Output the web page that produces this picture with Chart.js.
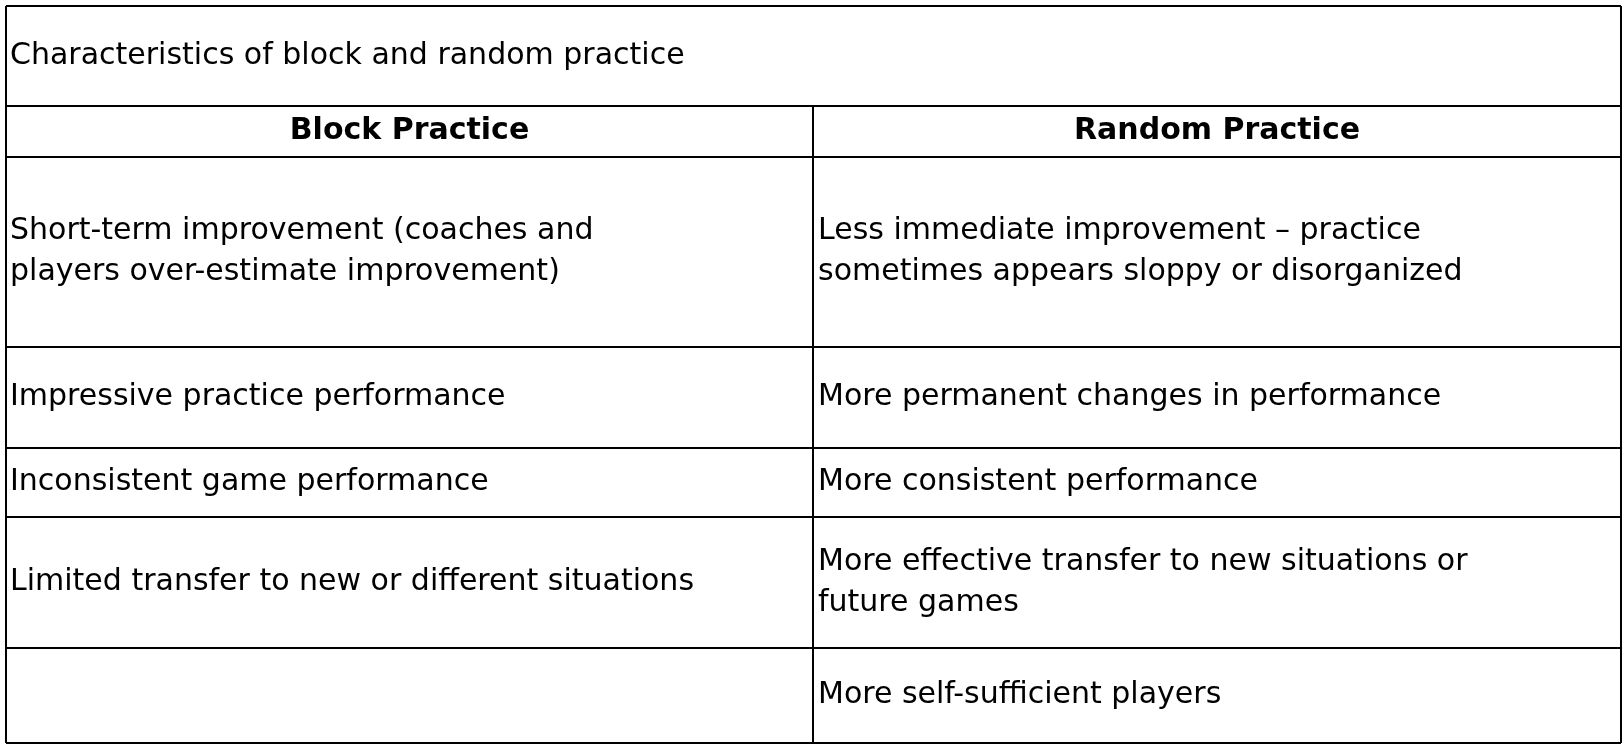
<!DOCTYPE html>
<html lang="en">
<head>
<meta charset="UTF-8">
<title>Characteristics of block and random practice</title>
<script src="https://cdn.jsdelivr.net/npm/chart.js"></script>
<style>
  body { margin: 0; background: #fff; }
  canvas { display: block; }
</style>
</head>
<body>
<canvas id="tableChart" width="1624" height="748"></canvas>
<script>
// table content
var title = 'Characteristics of block and random practice';
var headers = ['Block Practice', 'Random Practice'];
var blockCells = [
    ['Short-term improvement (coaches and', 'players over-estimate improvement)'],
    ['Impressive practice performance'],
    ['Inconsistent game performance'],
    ['Limited transfer to new or different situations'],
    []
];
var randomCells = [
    ['Less immediate improvement \u2013 practice', 'sometimes appears sloppy or disorganized'],
    ['More permanent changes in performance'],
    ['More consistent performance'],
    ['More effective transfer to new situations or', 'future games'],
    ['More self-sufficient players']
];

// layout
var left = 6, right = 1621, mid = 813;
var rowEdges = [6, 106, 157, 347, 448, 517, 648, 743];
var font = '"DejaVu Sans", sans-serif';
var fontSize = 30, lineGap = 41;

var tablePlugin = {
    id: 'tablePlugin',
    afterDraw: function (chart) {
        var ctx = chart.ctx;
        ctx.save();
        ctx.fillStyle = '#fff';
        ctx.fillRect(0, 0, chart.width, chart.height);
        ctx.strokeStyle = '#000';
        ctx.lineWidth = 2;
        ctx.beginPath();
        rowEdges.forEach(function (y) { ctx.moveTo(left, y); ctx.lineTo(right, y); });
        ctx.moveTo(left, rowEdges[0]); ctx.lineTo(left, rowEdges[7]);
        ctx.moveTo(right, rowEdges[0]); ctx.lineTo(right, rowEdges[7]);
        ctx.moveTo(mid, rowEdges[1]); ctx.lineTo(mid, rowEdges[7]);
        ctx.stroke();

        ctx.fillStyle = '#000';
        ctx.textBaseline = 'middle';
        function cell(lines, x, y0, y1, align) {
            var cy = (y0 + y1) / 2 - (lines.length - 1) * lineGap / 2;
            ctx.textAlign = align;
            lines.forEach(function (t, i) { ctx.fillText(t, x, cy + i * lineGap); });
        }
        ctx.font = fontSize + 'px ' + font;
        cell([title], left + 4, rowEdges[0], rowEdges[1], 'left');
        ctx.font = 'bold ' + fontSize + 'px ' + font;
        cell([headers[0]], (left + mid) / 2, rowEdges[1], rowEdges[2], 'center');
        cell([headers[1]], (mid + right) / 2, rowEdges[1], rowEdges[2], 'center');
        ctx.font = fontSize + 'px ' + font;
        for (var i = 0; i < blockCells.length; i++) {
            cell(blockCells[i], left + 4, rowEdges[i + 2], rowEdges[i + 3], 'left');
            cell(randomCells[i], mid + 5, rowEdges[i + 2], rowEdges[i + 3], 'left');
        }
        ctx.restore();
    }
};

new Chart(document.getElementById('tableChart').getContext('2d'), {
    type: 'bar',
    data: { labels: [], datasets: [] },
    options: {
        responsive: false,
        animation: false,
        plugins: { legend: { display: false }, tooltip: { enabled: false } },
        scales: { x: { display: false }, y: { display: false } }
    },
    plugins: [tablePlugin]
});
</script>
</body>
</html>
